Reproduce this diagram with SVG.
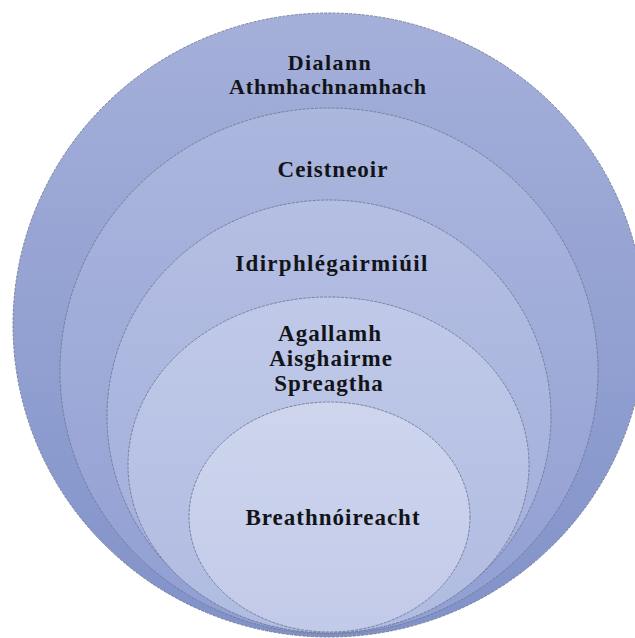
<svg xmlns="http://www.w3.org/2000/svg" width="635" height="638" viewBox="0 0 635 638">
  <style>
    .ring { stroke: #6f7996; stroke-width: 0.9; stroke-dasharray: 3 1.2; }
    .lbl { font-family: "Liberation Serif", "Times New Roman", serif; font-weight: bold; font-size: 23px; fill: #121418; text-anchor: middle; letter-spacing: 1px; }
    .tight { font-size: 22px; }
  </style>
  <defs>
    <linearGradient id="g1" x1="0" y1="0" x2="0" y2="1">
      <stop offset="0" stop-color="#a5b0da"/>
      <stop offset="1" stop-color="#8192c9"/>
    </linearGradient>
    <linearGradient id="g2" x1="0" y1="0" x2="0" y2="1">
      <stop offset="0" stop-color="#acb7de"/>
      <stop offset="1" stop-color="#909ed2"/>
    </linearGradient>
    <linearGradient id="g3" x1="0" y1="0" x2="0" y2="1">
      <stop offset="0" stop-color="#b5bfe3"/>
      <stop offset="1" stop-color="#a0acda"/>
    </linearGradient>
    <linearGradient id="g4" x1="0" y1="0" x2="0" y2="1">
      <stop offset="0" stop-color="#c0c9e8"/>
      <stop offset="1" stop-color="#b0bbe1"/>
    </linearGradient>
    <linearGradient id="g5" x1="0" y1="0" x2="0" y2="1">
      <stop offset="0" stop-color="#ced5ed"/>
      <stop offset="1" stop-color="#c2cae9"/>
    </linearGradient>
  </defs>
  <rect width="635" height="638" fill="#ffffff"/>

  <g id="dialann">
    <ellipse class="ring" cx="329" cy="325" rx="316" ry="312" fill="url(#g1)"/>
    <text class="lbl tight" x="330" y="70" style="letter-spacing:1.4px">Dialann</text>
    <text class="lbl tight" x="328" y="94" style="letter-spacing:0.8px">Athmhachnamhach</text>
  </g>

  <g id="ceistneoir">
    <ellipse class="ring" cx="329" cy="371" rx="269" ry="263" fill="url(#g2)"/>
    <text class="lbl" x="333" y="177">Ceistneoir</text>
  </g>

  <g id="idirphlegairmiuil">
    <ellipse class="ring" cx="329" cy="416.5" rx="222" ry="216.5" fill="url(#g3)"/>
    <text class="lbl" x="332" y="271" style="letter-spacing:1.3px">Idirphlégairmiúil</text>
  </g>

  <g id="agallamh">
    <ellipse class="ring" cx="328.5" cy="465" rx="200.5" ry="168" fill="url(#g4)"/>
    <text class="lbl" x="330" y="341">Agallamh</text>
    <text class="lbl" x="331" y="366">Aisghairme</text>
    <text class="lbl" x="329" y="390.5">Spreagtha</text>
  </g>

  <g id="breathnoireacht">
    <ellipse class="ring" cx="329.5" cy="517" rx="140.5" ry="115" fill="url(#g5)"/>
    <text class="lbl" x="333" y="525">Breathnóireacht</text>
  </g>

  <g id="connectors"></g>
</svg>
